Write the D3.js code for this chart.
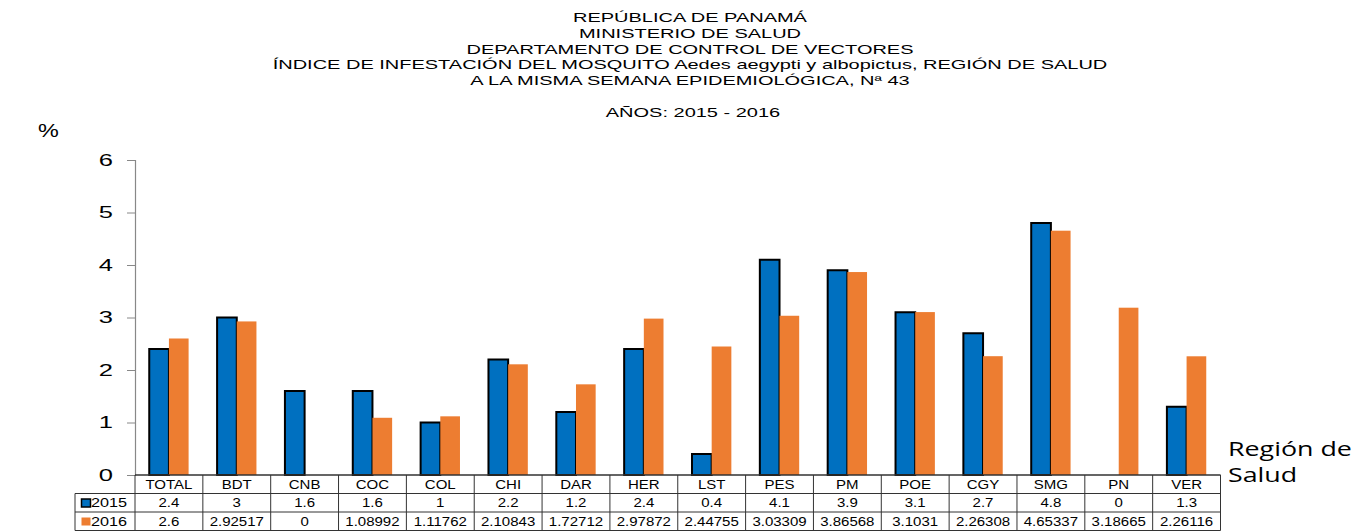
<!DOCTYPE html>
<html>
<head>
<meta charset="utf-8">
<script src="https://cdnjs.cloudflare.com/ajax/libs/d3/7.8.5/d3.min.js"></script>
<style>
  body { margin: 0; background: #fff; }
  svg { display: block; font-family: "Liberation Sans", Arial, sans-serif; }
</style>
</head>
<body>
<svg width="1367" height="531"></svg>
<script>
var regions = ['TOTAL', 'BDT', 'CNB', 'COC', 'COL', 'CHI', 'DAR', 'HER', 'LST', 'PES', 'PM', 'POE', 'CGY', 'SMG', 'PN', 'VER'];
var years = ['2015', '2016'];
var values2015 = [2.4, 3, 1.6, 1.6, 1, 2.2, 1.2, 2.4, 0.4, 4.1, 3.9, 3.1, 2.7, 4.8, 0, 1.3];
var values2016 = [2.6, 2.92517, 0, 1.08992, 1.11762, 2.10843, 1.72712, 2.97872, 2.44755, 3.03309, 3.86568, 3.1031, 2.26308, 4.65337, 3.18665, 2.26116];
var yTicks = [0, 1, 2, 3, 4, 5, 6];
var titleLines = [
    'REPÚBLICA DE PANAMÁ',
    'MINISTERIO DE SALUD',
    'DEPARTAMENTO DE CONTROL DE VECTORES',
    'ÍNDICE DE INFESTACIÓN DEL MOSQUITO Aedes aegypti y albopictus, REGIÓN DE SALUD',
    'A LA MISMA SEMANA EPIDEMIOLÓGICA, Nª 43'
];

var colors = {'2015': '#0070C0', '2016': '#ED7D31'};
var series = {'2015': values2015, '2016': values2016};

var svg = d3.select('svg');

var plotLeft = 135, plotRight = 1220.5, plotTop = 160, plotBottom = 475;

// the original picture is stretched sideways, widen the glyphs to match
function stretch(sel, k) {
    sel.each(function(){
        var w = this.getComputedTextLength();
        d3.select(this)
            .attr('textLength', w * k)
            .attr('lengthAdjust', 'spacingAndGlyphs');
    });
}

var x = d3.scaleBand()
    .domain(regions)
    .range([plotLeft, plotRight]);

var xi = d3.scaleBand()
    .domain(years)
    .range([x.bandwidth() * 0.21, x.bandwidth() * 0.79]);

var y = d3.scaleLinear()
    .domain([0, 6])
    .range([plotBottom, plotTop]);

// titles
svg.selectAll('text.title')
    .data(titleLines)
    .enter()
    .append('text')
    .attr('class', 'title')
    .attr('x', 690)
    .attr('y', function(d, i){
        return 22 + i * 15.8;
    })
    .attr('text-anchor', 'middle')
    .attr('font-size', 13.5)
    .text(function(d){ return d; })
    .call(stretch, 1.48);

svg.append('text')
    .attr('x', 693)
    .attr('y', 117)
    .attr('text-anchor', 'middle')
    .attr('font-size', 13.5)
    .text('AÑOS: 2015 - 2016')
    .call(stretch, 1.48);

svg.append('text')
    .attr('x', 38)
    .attr('y', 137)
    .attr('font-size', 18)
    .text('%')
    .call(stretch, 1.3);

// y axis
var yAxis = svg.append('g')
    .attr('transform', 'translate(' + plotLeft + ',0)')
    .call(d3.axisLeft(y).tickValues(yTicks).tickFormat(d3.format('d')).tickSize(8).tickPadding(14));

yAxis.select('.domain').attr('stroke', '#888').attr('stroke-width', 1.2);
yAxis.selectAll('.tick line').attr('stroke', '#888');
yAxis.selectAll('.tick text')
    .attr('font-size', 17)
    .attr('font-family', '"Liberation Sans", Arial, sans-serif')
    .attr('fill', '#000')
    .call(stretch, 1.5);

// bars
years.forEach(function(yr){
    svg.append('g')
        .selectAll('rect')
        .data(series[yr])
        .enter()
        .append('rect')
        .attr('x', function(d, i){
            return x(regions[i]) + xi(yr);
        })
        .attr('y', function(d){
            return y(d);
        })
        .attr('width', xi.bandwidth())
        .attr('height', function(d){
            return plotBottom - y(d);
        })
        .attr('fill', colors[yr])
        .attr('stroke', yr === '2015' ? '#000' : 'none')
        .attr('stroke-width', 2)
        .attr('display', function(d){
            return d > 0 ? null : 'none';
        });
});

// x axis line
svg.append('line')
    .attr('x1', plotLeft).attr('x2', plotRight)
    .attr('y1', plotBottom).attr('y2', plotBottom)
    .attr('stroke', '#333').attr('stroke-width', 1.2);

// data table
var rowY = [475, 493.5, 512, 530.5];
var tableLeft = 75;
var table = svg.append('g')
    .attr('stroke', '#333')
    .attr('stroke-width', 1);

rowY.forEach(function(ry, k){
    table.append('line')
        .attr('x1', k === 0 ? plotLeft : tableLeft)
        .attr('x2', plotRight)
        .attr('y1', ry).attr('y2', ry);
});

regions.concat(['end']).forEach(function(r, i){
    var xx = i < regions.length ? x(r) : plotRight;
    table.append('line')
        .attr('x1', xx).attr('x2', xx)
        .attr('y1', rowY[0]).attr('y2', rowY[3]);
});
table.append('line')
    .attr('x1', tableLeft).attr('x2', tableLeft)
    .attr('y1', rowY[1]).attr('y2', rowY[3]);

svg.append('g')
    .selectAll('text')
    .data(regions)
    .enter()
    .append('text')
    .attr('x', function(d){ return x(d) + x.bandwidth() / 2; })
    .attr('y', rowY[0] + 13.5)
    .attr('text-anchor', 'middle')
    .attr('font-size', 12)
    .text(function(d){ return d; })
    .call(stretch, 1.25);

years.forEach(function(yr, k){
    var g = svg.append('g');
    g.selectAll('text')
        .data(series[yr])
        .enter()
        .append('text')
        .attr('x', function(d, i){ return x(regions[i]) + x.bandwidth() / 2; })
        .attr('y', rowY[k + 1] + 13.5)
        .attr('text-anchor', 'middle')
        .attr('font-size', 12)
        .text(function(d){ return String(d); })
        .call(stretch, 1.25);

    // legend key
    g.append('rect')
        .attr('x', 81.5)
        .attr('y', rowY[k + 1] + 5.5)
        .attr('width', 9)
        .attr('height', 8)
        .attr('fill', colors[yr])
        .attr('stroke', yr === '2015' ? '#000' : 'none')
        .attr('stroke-width', 1.5);

    g.append('text')
        .attr('x', 91)
        .attr('y', rowY[k + 1] + 13.5)
        .attr('font-size', 12)
        .text(yr)
        .call(stretch, 1.35);
});

// axis title
svg.append('text')
    .attr('x', 1228)
    .attr('y', 456)
    .attr('font-family', '"Open Sans", "Noto Sans", sans-serif')
    .attr('font-size', 20)
    .text('Región de')
    .call(stretch, 1.34);

svg.append('text')
    .attr('x', 1228)
    .attr('y', 482)
    .attr('font-family', '"Open Sans", "Noto Sans", sans-serif')
    .attr('font-size', 20)
    .text('Salud')
    .call(stretch, 1.34);
</script>
</body>
</html>
